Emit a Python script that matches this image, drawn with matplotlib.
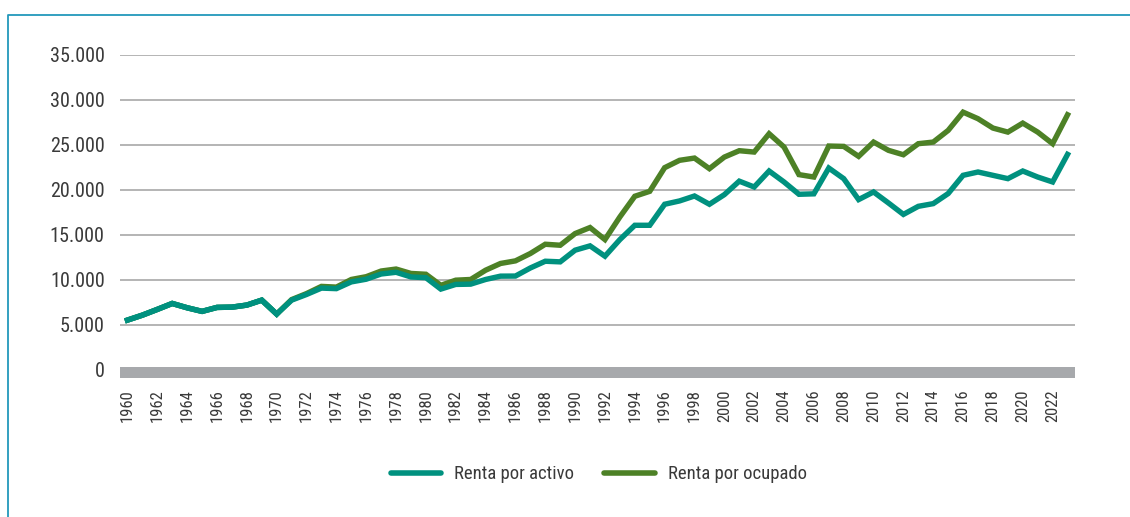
import matplotlib
matplotlib.use("Agg")
import matplotlib.pyplot as plt
from matplotlib.lines import Line2D

# Renta por activo / por ocupado, 1960-2023
years = list(range(1960, 2024))

renta_activo = [
    5500, 6050, 6690, 7350, 6870, 6470, 6910, 6940, 7170, 7720,
    6170, 7720, 8350, 9060, 9000, 9750, 10050, 10630, 10820, 10300,
    10220, 8950, 9470, 9500, 10020, 10390, 10400, 11300, 12050, 11980,
    13280, 13760, 12610, 14460, 16050, 16050, 18390, 18760, 19310, 18390,
    19460, 20960, 20310, 22090, 20870, 19500, 19550, 22420, 21240, 18910,
    19760, 18530, 17260, 18160, 18460, 19580, 21610, 21980, 21610, 21240,
    22090, 21420, 20870, 23940,
]

renta_ocupado = [
    5500, 6050, 6690, 7350, 6870, 6470, 6910, 6940, 7170, 7720,
    6170, 7780, 8450, 9250, 9170, 10020, 10330, 10960, 11180, 10690,
    10600, 9370, 9940, 10020, 11050, 11800, 12090, 12910, 13940, 13830,
    15130, 15800, 14460, 16980, 19280, 19830, 22460, 23280, 23530, 22350,
    23640, 24350, 24200, 26240, 24760, 21690, 21420, 24870, 24830, 23720,
    25310, 24390, 23900, 25130, 25310, 26610, 28640, 27910, 26870, 26420,
    27420, 26420, 25130, 28350,
]

series_labels = ["Renta por activo", "Renta por ocupado"]
yticks = [0, 5000, 10000, 15000, 20000, 25000, 30000, 35000]

TEAL = "#00917f"
GREEN = "#4d8126"
GRID = "#a8a8a8"
TEXT = "#3a3a3a"
FRAME = "#2398bb"

plt.rcParams["font.family"] = ["Roboto Condensed", "Open Sans Condensed",
                               "DejaVu Sans"]
plt.rcParams["font.stretch"] = "condensed"
plt.rcParams["font.weight"] = "normal"

fig = plt.figure(figsize=(11.3, 5.17), dpi=100)
ax = fig.add_axes([120 / 1130, 1 - 378.5 / 517, 955 / 1130, (378.5 - 55) / 517])

x = list(range(len(years)))
ax.plot(x, renta_activo, color=TEAL, lw=3.9, solid_joinstyle="miter", zorder=3)
ax.plot(x, renta_ocupado, color=GREEN, lw=3.9, solid_joinstyle="miter", zorder=2)
# the activo line sits on top where the two overlap early on
ax.plot(x[:11], renta_activo[:11], color=TEAL, lw=3.9, solid_joinstyle="miter", zorder=4)

ax.set_xlim(-0.5, len(years) - 0.5)
ax.set_ylim(-1000, 35000)

for v in yticks[1:]:
    ax.axhline(v, color=GRID, lw=1.2, zorder=1)
ax.axhspan(-900, 250, color="#a7a9ac", lw=0, zorder=1)

ax.set_yticks(yticks)
ax.set_yticklabels([f"{v:,}".replace(",", ".") for v in yticks],
                   fontsize=14.5, color=TEXT)
ax.set_xticks(x[::2])
ax.set_xticklabels([str(y) for y in years[::2]], rotation=90,
                   fontsize=12, color=TEXT)
ax.tick_params(axis="y", length=0, pad=11)
ax.tick_params(axis="x", length=0, pad=8)
for s in ax.spines.values():
    s.set_visible(False)

handles = [Line2D([], [], color=TEAL, lw=4, solid_capstyle="round"),
           Line2D([], [], color=GREEN, lw=4, solid_capstyle="round")]
fig.legend(handles, series_labels, loc="center", bbox_to_anchor=(0.53, 0.083),
           ncol=2, frameon=False, fontsize=13.5, handlelength=2.7,
           handletextpad=0.7, columnspacing=1.6, labelcolor=TEXT)

# thin border on the top and left edges
fig.add_artist(Line2D([8 / 1130, 8 / 1130, 1], [0, 1 - 15 / 517, 1 - 15 / 517],
                      transform=fig.transFigure, color=FRAME, lw=1.3))

fig.savefig("out.png", dpi=100)
